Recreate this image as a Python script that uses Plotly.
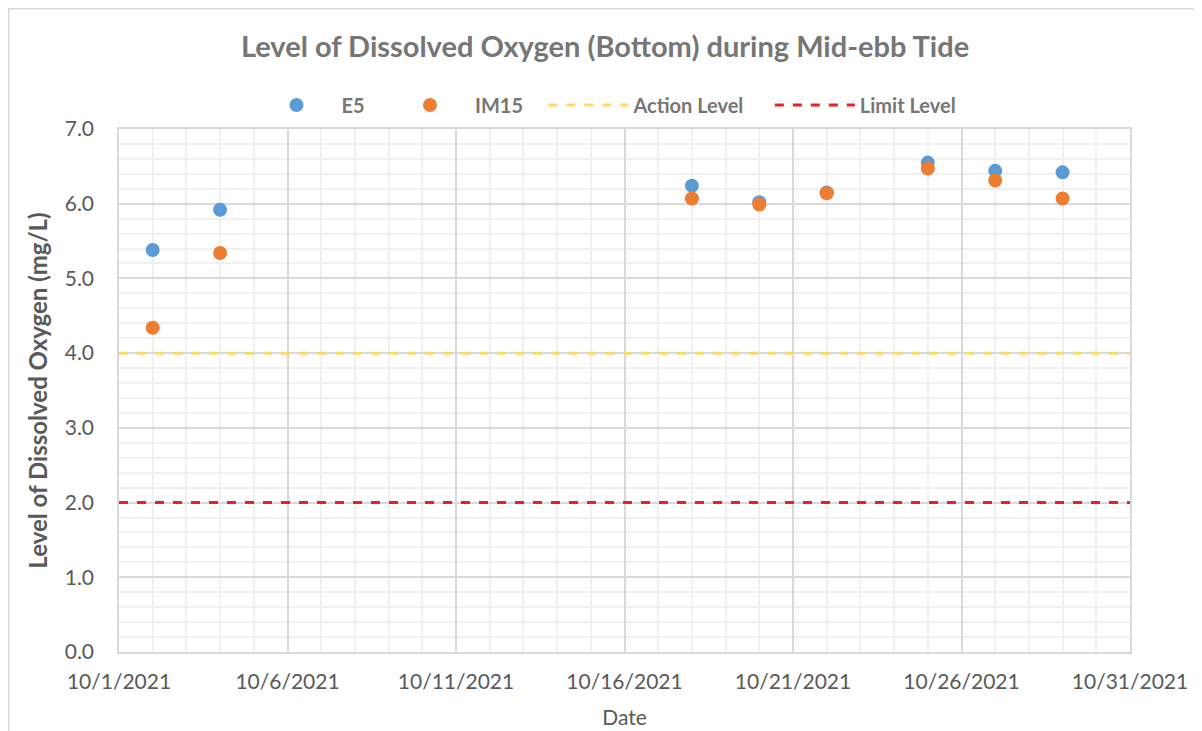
import plotly.graph_objects as go

dates = ["2021-10-02", "2021-10-04", "2021-10-18", "2021-10-20",
         "2021-10-22", "2021-10-25", "2021-10-27", "2021-10-29"]
e5 = [5.38, 5.92, 6.24, 6.02, 6.15, 6.55, 6.44, 6.42]
im15 = [4.34, 5.34, 6.07, 5.99, 6.14, 6.47, 6.31, 6.07]
line_dates = ["2021-10-01", "2021-10-31"]
action_level = [4.0, 4.0]
limit_level = [2.0, 2.0]
tick_dates = ["2021-10-01", "2021-10-06", "2021-10-11", "2021-10-16",
              "2021-10-21", "2021-10-26", "2021-10-31"]
tick_labels = ["10/1/2021", "10/6/2021", "10/11/2021", "10/16/2021",
               "10/21/2021", "10/26/2021", "10/31/2021"]

FONT = "Lato"
GRAY = "#595959"
TGRAY = "#767676"

W, H = 1194, 723
L, T, R, B = 111, 121, 72, 79
PW, PH = W - L - R, H - T - B

SP = "&nbsp;"


def legend_name(text, lead=0, trail=0):
    return SP * lead + "<b>" + text + "</b>" + SP * trail


fig = go.Figure()
fig.add_trace(go.Scatter(x=dates, y=e5, mode="markers", name=legend_name("E5", 0, 3),
                         marker=dict(color="#5B9BD5", size=14)))
fig.add_trace(go.Scatter(x=dates, y=im15, mode="markers", name=legend_name("IM15", 0, 3),
                         marker=dict(color="#ED7D31", size=14)))
fig.add_trace(go.Scatter(x=line_dates, y=action_level, mode="lines", name=legend_name("Action Level", 0, 4),
                         line=dict(color="#FFD966", width=3, dash="dash")))
fig.add_trace(go.Scatter(x=line_dates, y=limit_level, mode="lines", name=legend_name("Limit Level"),
                         line=dict(color="#EE1C25", width=3, dash="dash")))

fig.update_layout(
    width=W, height=H,
    paper_bgcolor="white", plot_bgcolor="white",
    margin=dict(l=L, r=R, t=T, b=B, autoexpand=False),
    font=dict(family=FONT, color=GRAY, size=21),
    title=dict(text="<b>Level of Dissolved Oxygen (Bottom) during Mid-ebb Tide</b>",
               x=0.5, xanchor="center", y=1 - 39 / H, yanchor="middle",
               font=dict(size=29, color=TGRAY, family=FONT)),
    legend=dict(orientation="h", x=0.5 - 18 / PW, xanchor="center", y=1 + 24 / PH, yanchor="middle",
                font=dict(size=20, color=TGRAY, family=FONT),
                itemwidth=80, traceorder="normal"),
    showlegend=True,
)
fig.update_xaxes(
    type="date", range=["2021-10-01", "2021-10-31"],
    tickmode="array", tickvals=tick_dates, ticktext=tick_labels,
    showgrid=True, gridcolor="#D9D9D9", gridwidth=1.5,
    minor=dict(dtick=86400000, showgrid=True, gridcolor="#F0F0F0", gridwidth=1.5),
    showline=True, linecolor="#D9D9D9", linewidth=1.5, mirror=True,
    ticks="", tickfont=dict(size=21, color=GRAY), ticklabelstandoff=10,
    title=dict(text="Date", font=dict(size=21, color=GRAY), standoff=18),
    zeroline=False, automargin=False,
)
fig.update_yaxes(
    range=[0, 7], dtick=1, tickformat=".1f",
    showgrid=True, gridcolor="#D9D9D9", gridwidth=1.5,
    minor=dict(dtick=0.2, showgrid=True, gridcolor="#F0F0F0", gridwidth=1.5),
    showline=True, linecolor="#D9D9D9", linewidth=1.5, mirror=True,
    ticks="", tickfont=dict(size=21, color=GRAY), ticklabelstandoff=19,
    title=dict(text="<b>Level of Dissolved Oxygen (mg/L)</b>", font=dict(size=24, color=GRAY), standoff=10),
    zeroline=False, automargin=False,
)
fig.add_shape(type="rect", xref="paper", yref="paper",
              x0=(0.75 - L) / PW, x1=(1189 - L) / PW,
              y0=(PH + 0 - (H + 20 - T)) / PH, y1=(PH - (0.75 - T)) / PH,
              line=dict(color="#D9D9D9", width=1.5), fillcolor="rgba(0,0,0,0)", layer="below")

fig.write_html("out.html")
